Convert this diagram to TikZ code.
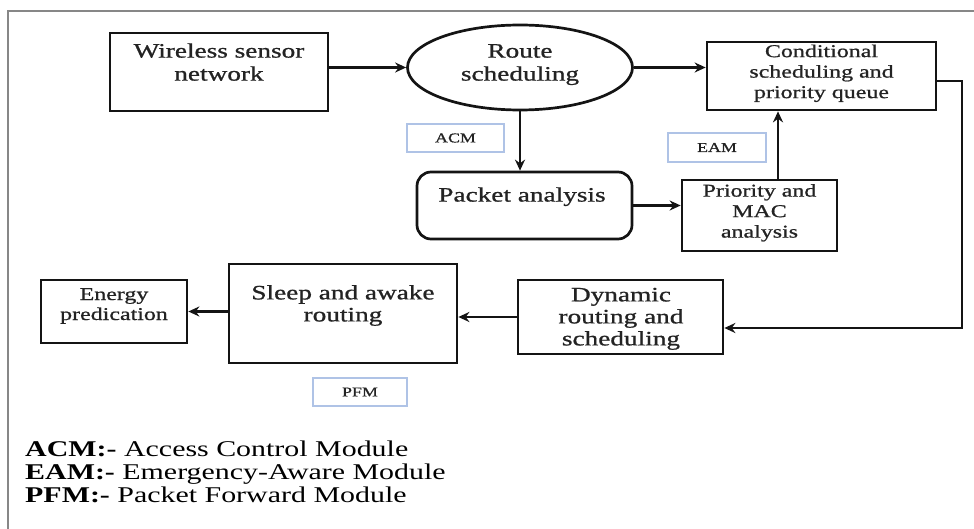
\documentclass[tikz,border=0pt]{standalone}
\usepackage{fontspec}
\setmainfont{Liberation Serif}[FakeStretch=1.33]
\newfontfamily\diagfont{Liberation Serif}[FakeStretch=1.33,FakeBold=0.9]
\usetikzlibrary{shapes.geometric,arrows.meta}
\definecolor{framegray}{RGB}{135,135,135}
\definecolor{lblblue}{RGB}{175,195,230}
\definecolor{ink}{RGB}{20,20,20}
\definecolor{txt}{RGB}{35,35,35}
\newcommand{\myfs}[2]{\diagfont\fontsize{#1}{#2}\selectfont}
\tikzset{
  box/.style={draw=ink, line width=2.7pt, fill=white, inner sep=0pt, rectangle},
  ellbox/.style={draw=ink, line width=2.7pt, fill=white, inner sep=0pt, ellipse},
  rbox/.style={box, rounded corners=14pt},
  lblbox/.style={draw=lblblue, line width=1.5pt, fill=white, inner sep=0pt, rectangle,
     text=txt, font=\myfs{13.5}{16}},
  bigtxt/.style={text=txt, align=center, inner sep=0pt, font=\myfs{20.5}{23}},
  smalltxt/.style={text=txt, align=center, inner sep=0pt, font=\myfs{18}{20.5}},
  arr/.style={draw=ink, line width=2.7pt, -{Stealth[length=11pt,width=10pt]}},
  framel/.style={draw=framegray, line width=1.4pt}
}
\begin{document}
\begin{tikzpicture}[x=1pt,y=-1pt]
\useasboundingbox (0,0) rectangle (974,529);
% frame
\coordinate (fa) at (8,529);
\coordinate (fb) at (8,11);
\coordinate (fc) at (974,11);
\draw[framel] (fa) -- (fb) -- (fc);

% boxes
\node[box, minimum width=218pt, minimum height=78pt] (wsn) at (219,72) {};
\node[bigtxt] (wsnt) at (219,64.5) {\strut Wireless sensor\\\strut network};

\node[ellbox, minimum width=225pt, minimum height=85pt] (route) at (520,67.5) {};
\node[bigtxt] (routet) at (520,64.5) {\strut Route\\\strut scheduling};

\node[box, minimum width=229pt, minimum height=68pt] (cond) at (821.5,76) {};
\node[smalltxt] (condt) at (821.5,73.5) {\strut Conditional\\\strut scheduling and\\\strut priority queue};

\node[lblbox, minimum width=97pt, minimum height=28pt] (acm) at (455.5,138) {ACM};
\node[lblbox, minimum width=98pt, minimum height=29pt] (eam) at (717,147.5) {EAM};

\node[rbox, minimum width=215pt, minimum height=67pt] (pack) at (524.5,205.5) {};
\node[bigtxt] (packt) at (522,197) {\strut Packet analysis};

\node[box, minimum width=155pt, minimum height=71pt] (prio) at (759.5,215.5) {};
\node[smalltxt] (priot) at (759.5,213) {\strut Priority and\\\strut MAC\\\strut analysis};

\node[box, minimum width=228pt, minimum height=99pt] (sleep) at (343,313.5) {};
\node[bigtxt, font=\myfs{20.5}{22}] (sleept) at (343,306) {\strut Sleep and awake\\\strut routing};

\node[box, minimum width=205pt, minimum height=74pt] (dyn) at (620.5,317) {};
\node[bigtxt, font=\myfs{20.5}{22}] (dynt) at (621,319) {\strut Dynamic\\\strut routing and\\\strut scheduling};

\node[box, minimum width=146pt, minimum height=63pt] (energy) at (114,311.5) {};
\node[smalltxt, font=\myfs{18}{20}] (energyt) at (114,306) {\strut Energy\\\strut predication};

\node[lblbox, minimum width=94pt, minimum height=28pt] (pfm) at (360,392) {PFM};

% connectors
\draw[arr] (wsn.east |- route.west) -- (route.west);
\draw[arr] (route.east) -- (route.east -| cond.west);
\draw[arr] (route.south) -- (route.south |- pack.north);
\draw[arr] (pack.east) -- (pack.east -| prio.west);
\draw[arr] ([xshift=18.5pt]prio.north) -- ([xshift=18.5pt]prio.north |- cond.south);
\coordinate (rt) at (962,328);
\draw[arr] ([yshift=-5pt]cond.east) -| (rt) -- (rt -| dyn.east);
\draw[arr] (dyn.west) -- (dyn.west -| sleep.east);
\draw[arr] (sleep.west |- energy.east) -- (energy.east);

% legend
\node[anchor=west, align=left, inner sep=0pt, text=black, font=\rmfamily\fontsize{22.5}{22}\selectfont] (legend) at (25,475)
 {\strut\textbf{ACM:-} Access Control Module\\
  \strut\textbf{EAM:-} Emergency-Aware Module\\
  \strut\textbf{PFM:-} Packet Forward Module};
\end{tikzpicture}
\end{document}
